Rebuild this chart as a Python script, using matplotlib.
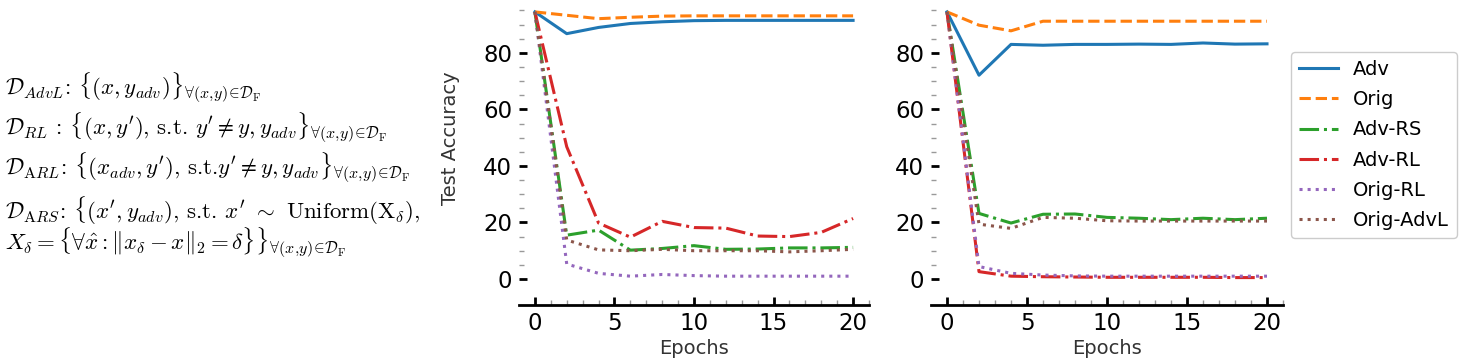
import matplotlib
matplotlib.use("Agg")
import matplotlib.pyplot as plt
from matplotlib.ticker import FixedLocator
import numpy as np

plt.rcParams['font.family'] = ['DejaVu Sans']
plt.rcParams['mathtext.fontset'] = 'cm'

epochs = [0, 2, 4, 6, 8, 10, 12, 14, 16, 18, 20]

series_names = ["Adv", "Orig", "Adv-RS", "Adv-RL", "Orig-RL", "Orig-AdvL"]

# left panel
left_adv = [94.5, 86.8, 89.0, 90.4, 91.0, 91.4, 91.5, 91.5, 91.5, 91.5, 91.5]
left_orig = [94.5, 93.3, 92.1, 92.6, 93.0, 93.1, 93.1, 93.1, 93.1, 93.1, 93.1]
left_adv_rs = [94.5, 15.5, 17.3, 10.2, 10.8, 11.8, 10.5, 10.6, 11.0, 11.0, 11.2]
left_adv_rl = [94.5, 46.8, 19.8, 14.8, 20.4, 18.2, 18.0, 15.2, 15.0, 16.5, 21.4]
left_orig_rl = [94.5, 5.3, 2.0, 1.0, 1.6, 1.2, 1.0, 1.0, 1.0, 1.0, 1.0]
left_orig_advl = [94.5, 13.8, 10.3, 10.0, 10.5, 10.0, 10.0, 10.0, 9.6, 10.0, 10.5]

# right panel
right_adv = [94.5, 72.1, 83.0, 82.7, 83.0, 83.0, 83.1, 83.0, 83.5, 83.1, 83.2]
right_orig = [94.5, 89.8, 87.8, 91.2, 91.2, 91.2, 91.2, 91.2, 91.2, 91.2, 91.2]
right_adv_rs = [94.5, 23.2, 19.8, 22.9, 23.0, 21.8, 21.5, 21.0, 21.5, 21.0, 21.5]
right_adv_rl = [94.5, 2.6, 1.0, 0.8, 0.7, 0.6, 0.6, 0.6, 0.6, 0.5, 0.5]
right_orig_rl = [94.5, 4.4, 2.0, 1.4, 1.1, 1.0, 1.0, 1.0, 1.0, 1.0, 1.0]
right_orig_advl = [94.5, 19.4, 17.9, 21.8, 21.5, 20.6, 20.5, 20.5, 20.5, 20.5, 20.5]

colors = ["#1f77b4", "#ff7f0e", "#2ca02c", "#d62728", "#9467bd", "#8c564b"]
styles = ["-", "--", "-.", "-.", ":", ":"]

left_data = [left_adv, left_orig, left_adv_rs, left_adv_rl, left_orig_rl, left_orig_advl]
right_data = [right_adv, right_orig, right_adv_rs, right_adv_rl, right_orig_rl, right_orig_advl]

W, H = 1465, 363
fig = plt.figure(figsize=(W / 100, H / 100), dpi=100)

def px_axes(left, right, top, bottom):
    return [left / W, 1 - bottom / H, (right - left) / W, (bottom - top) / H]

ax1 = fig.add_axes(px_axes(519, 869, 2, 305))
ax2 = fig.add_axes(px_axes(931, 1283, 2, 305))

handles = []
for ax, data in [(ax1, left_data), (ax2, right_data)]:
    for name, vals, c, ls in zip(series_names, data, colors, styles):
        h, = ax.plot(epochs, vals, color=c, linestyle=ls, linewidth=2.2, label=name)
        if ax is ax1:
            handles.append(h)
    ax.set_xlim(-1, 21)
    ax.set_ylim(-9.2, 98)
    for s in ["top", "right", "left"]:
        ax.spines[s].set_visible(False)
    ax.spines["bottom"].set_linewidth(2.0)
    ax.set_xticks([0, 5, 10, 15, 20])
    ax.set_yticks([0, 20, 40, 60, 80])
    ax.xaxis.set_minor_locator(FixedLocator(list(range(0, 22))))
    ax.yaxis.set_minor_locator(FixedLocator(list(range(5, 100, 5))))
    ax.tick_params(which="major", direction="in", length=6, width=2.0, color="black",
                   labelsize=16.5, pad=5)
    ax.tick_params(which="minor", direction="in", length=3.8, width=1.0, color="#999999")
    ax.set_xlabel("Epochs", fontsize=14, color="#333333", labelpad=3)

ax1.set_ylabel("Test Accuracy", fontsize=14, color="#333333")
ax1.yaxis.set_label_coords(-0.169, 0.551)

fig.legend(handles=handles, loc="upper left",
           bbox_to_anchor=(1291 / W, 1 - 52 / H), borderaxespad=0,
           fontsize=14, frameon=True, fancybox=True, edgecolor="#cccccc",
           framealpha=1, labelspacing=0.58)

fs = 16.5
sub = r"_{\forall(x,\!y)\!\in\!\mathcal{D}_{\mathrm{F}}}"
lines = [
    (95, r"$\mathcal{D}_{AdvL}$: $\{(x,y_{adv})\}" + sub + "$"),
    (135, r"$\mathcal{D}_{RL}$ : $\{(x,y^{\prime})$, s.t. $y^{\prime}\neq y,y_{adv}\}" + sub + "$"),
    (175, r"$\mathcal{D}_{\mathrm{A}RL}$: $\{(x_{adv},y^{\prime})$, s.t.$y^{\prime}\neq y,y_{adv}\}" + sub + "$"),
    (219, r"$\mathcal{D}_{\mathrm{A}RS}$: $\{(x^{\prime},y_{adv})$, s.t. $x^{\prime}$ $\sim$ Uniform(X$_{\delta}$),"),
    (250, r"$X_{\delta}=\{\forall\hat{x}:\Vert x_{\delta}-x\Vert_{2}=\delta\}\}" + sub + "$"),
]
for yb, t in lines:
    fig.text(5 / W, 1 - yb / H, t, fontsize=fs, ha="left", va="baseline",
             family="cmr10")

fig.savefig("out.png", dpi=100)
